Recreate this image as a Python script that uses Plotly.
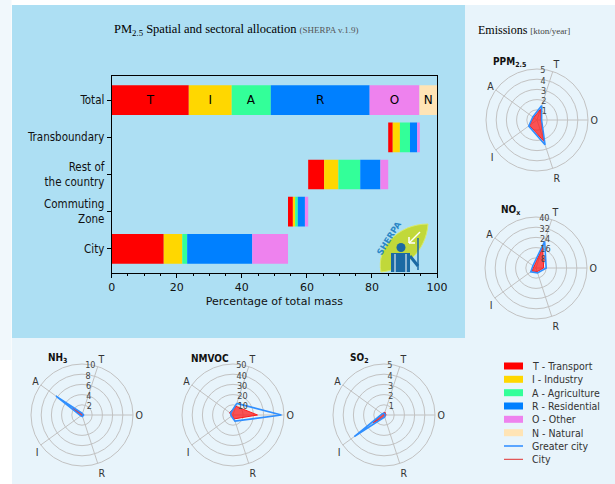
import plotly.graph_objects as go

W, H = 615, 484


def px(x):
    return x / W


def py(y):
    return 1 - y / H


NARROW = "Liberation Sans Narrow, DejaVu Sans Condensed, Roboto Condensed, Arial Narrow, Roboto, sans-serif"
SERIF = "Liberation Serif, DejaVu Serif, serif"

# ---------------- bar chart data ----------------
categories = ["Total", "Transboundary", "Rest of<br>the country", "Commuting<br>Zone", "City"]
sector_codes = ["T", "I", "A", "R", "O", "N"]
sector_names = ["Transport", "Industry", "Agriculture", "Residential", "Other", "Natural"]
sector_colors = ["#ff0000", "#ffd700", "#33ff99", "#0080ff", "#ee82ee", "#ffe4b5"]

total = [23.7, 13.2, 12.0, 30.4, 15.3, 5.4]
transboundary = [1.4, 2.2, 3.1, 2.2, 0.8, 0.0]
rest_of_country = [4.9, 4.4, 6.7, 6.2, 2.4, 0.0]
commuting_zone = [1.5, 0.7, 0.8, 2.2, 1.0, 0.0]
city = [16.0, 5.7, 1.5, 20.0, 11.0, 0.0]

# ---------------- radar data (order T, A, I, R, O) ----------------
radar_sectors = ["T", "A", "I", "R", "O"]
angular_order = ["O", "T", "A", "I", "R"]

ppm25_greater = [1.5, 0.5, 1.0, 2.55, 0.45]
ppm25_city = [1.1, 0.4, 0.9, 2.2, 0.4]
nox_greater = [22, 3, 5, 4, 8]
nox_city = [17, 2, 4, 3, 6]
nh3_greater = [0.3, 6.3, 0.3, 0.3, 0.3]
nh3_city = [0.2, 2.3, 0.2, 0.2, 0.2]
nmvoc_greater = [12, 3, 2, 6.3, 47.5]
nmvoc_city = [9, 4, 2, 4, 24]
so2_greater = [0.2, 0.2, 3.6, 0.2, 0.1]
so2_city = [0.3, 0.2, 1.3, 0.2, 0.2]

radar_ticks = {
    "ppm": [1, 2, 3, 4, 5],
    "nox": [8, 16, 24, 32, 40],
    "nh3": [2, 4, 6, 8, 10],
    "nmvoc": [10, 20, 30, 40, 50],
    "so2": [1, 2, 3, 4, 5],
}

fig = go.Figure()

# ---------------- stacked waterfall-like bars ----------------
rows = [total, transboundary, rest_of_country, commuting_zone, city]
row_start = [0.0] * 5
row_start[4] = 0.0
row_start[3] = row_start[4] + sum(city)
row_start[2] = row_start[3] + sum(commuting_zone)
row_start[1] = row_start[2] + sum(rest_of_country)
row_start[0] = 0.0

for j, code in enumerate(sector_codes):
    # Total row (labelled with the sector letter)
    fig.add_trace(go.Bar(
        y=[categories[0]], x=[total[j]], base=[row_start[0] + sum(total[:j])], orientation="h",
        marker=dict(color=sector_colors[j], line=dict(width=0)), width=0.8,
        text=[code], textposition="inside", insidetextanchor="middle", textangle=0,
        textfont=dict(family="DejaVu Sans", size=12, color="black"),
        showlegend=False, hoverinfo="skip",
    ))
    # spatial contributions
    ys, xs, bases = [], [], []
    for i in range(1, len(rows)):
        r = rows[i]
        if r[j] > 0:
            ys.append(categories[i])
            xs.append(r[j])
            bases.append(row_start[i] + sum(r[:j]))
    if xs:
        fig.add_trace(go.Bar(
            y=ys, x=xs, base=bases, orientation="h",
            marker=dict(color=sector_colors[j], line=dict(width=0)), width=0.8,
            showlegend=False, hoverinfo="skip",
        ))

fig.update_layout(
    barmode="overlay",
    xaxis=dict(domain=[px(111.7), px(437)], range=[0, 100], tickvals=[0, 20, 40, 60, 80, 100],
               ticks="outside", ticklen=4, tickcolor="black", showline=True, mirror=True,
               linecolor="black", linewidth=1, showgrid=False, zeroline=False, automargin=False,
               minor=dict(ticks="outside", dtick=5, ticklen=2, tickcolor="black"),
               tickfont=dict(family="DejaVu Sans", size=11, color="#111"),
               title=dict(text="Percentage of total mass", standoff=4,
                          font=dict(family="DejaVu Sans", size=11, color="#111"))),
    yaxis=dict(domain=[py(273), py(76)], categoryorder="array", categoryarray=categories[::-1],
               range=[-0.65, 4.65], ticks="outside", ticklen=4, tickcolor="black",
               showline=True, mirror=True, linecolor="black", linewidth=1, showgrid=False,
               zeroline=False, automargin=False,
               tickfont=dict(family=NARROW, size=11.5, color="#111")),
)

# ---------------- radar charts ----------------
R = 51
radars = [
    ("polar", (537, 120), ppm25_greater, ppm25_city, radar_ticks["ppm"], "PPM<sub>2.5</sub>", (491, 62)),
    ("polar2", (536, 268), nox_greater, nox_city, radar_ticks["nox"], "NO<sub>x</sub>", (499, 210)),
    ("polar3", (82, 415), nh3_greater, nh3_city, radar_ticks["nh3"], "NH<sub>3</sub>", (46, 358)),
    ("polar4", (233, 415), nmvoc_greater, nmvoc_city, radar_ticks["nmvoc"], "NMVOC", (189, 358)),
    ("polar5", (384, 415), so2_greater, so2_city, radar_ticks["so2"], "SO<sub>2</sub>", (348, 358)),
]

annotations = []
for name, (cx, cy), greater, cityv, ticks, title, (tx, ty) in radars:
    th = radar_sectors + [radar_sectors[0]]
    fig.add_trace(go.Scatterpolar(
        r=cityv + [cityv[0]], theta=th, subplot=name, mode="lines",
        line=dict(color="#ff1a1a", width=1), fill="toself",
        fillcolor="rgba(255,20,20,0.72)", showlegend=False, hoverinfo="skip"))
    fig.add_trace(go.Scatterpolar(
        r=greater + [greater[0]], theta=th, subplot=name, mode="lines",
        line=dict(color="#2f8fff", width=1.6), showlegend=False, hoverinfo="skip"))
    fig.layout[name] = dict(
        domain=dict(x=[px(cx - R), px(cx + R)], y=[py(cy + R), py(cy - R)]),
        bgcolor="rgba(0,0,0,0)",
        angularaxis=dict(type="category", categoryorder="array", categoryarray=angular_order,
                         rotation=0, direction="counterclockwise", showline=True,
                         linecolor="#c2c2c2", linewidth=1, gridcolor="#c2c2c2", ticks="",
                         showgrid=True,
                         tickfont=dict(family=NARROW, size=10.5, color="#333")),
        radialaxis=dict(range=[0, ticks[-1]], tickvals=ticks, angle=92, showline=False,
                        showgrid=True, gridcolor="#c2c2c2", ticks="", tickangle=92,
                        tickfont=dict(family=NARROW, size=9, color="#444")),
    )
    annotations.append(dict(x=px(tx), y=py(ty), xref="paper", yref="paper", xanchor="left",
                            yanchor="middle", showarrow=False, text="<b>" + title + "</b>",
                            font=dict(family=NARROW, size=10, color="#111")))

# ---------------- background panels & logo ----------------
shapes = [
    dict(type="rect", xref="paper", yref="paper", x0=px(0), x1=px(11.5), y0=py(360), y1=py(0),
         fillcolor="#f1f8fc", line=dict(width=0), layer="below"),
    dict(type="rect", xref="paper", yref="paper", x0=px(12), x1=px(615), y0=py(484), y1=py(5),
         fillcolor="#e8f4fb", line=dict(width=0), layer="below"),
    dict(type="rect", xref="paper", yref="paper", x0=px(12), x1=px(465), y0=py(338), y1=py(5),
         fillcolor="#addff3", line=dict(width=0), layer="below"),
]


def path_from(points_cmd):
    out = []
    for tok in points_cmd:
        if isinstance(tok, str):
            out.append(tok)
        else:
            out.append(f"{px(tok[0]):.5f},{py(tok[1]):.5f}")
    return " ".join(out)


leaf = path_from(["M", (428, 224), "C", (398, 224), (376, 248), (381, 272),
                  "C", (404, 270), (426, 252), (428, 224), "Z"])
shapes.append(dict(type="path", xref="paper", yref="paper", path=leaf,
                   fillcolor="#c1d83a", line=dict(color="#d8ea6a", width=1)))
shapes.append(dict(type="line", xref="paper", yref="paper", x0=px(420), y0=py(232),
                   x1=px(409), y1=py(243), line=dict(color="white", width=1.5)))
shapes.append(dict(type="line", xref="paper", yref="paper", x0=px(409), y0=py(243),
                   x1=px(409), y1=py(237), line=dict(color="white", width=1.5)))
shapes.append(dict(type="line", xref="paper", yref="paper", x0=px(409), y0=py(243),
                   x1=px(415), y1=py(243), line=dict(color="white", width=1.5)))
shapes.append(dict(type="circle", xref="paper", yref="paper", x0=px(396.5), x1=px(405.5),
                   y0=py(252), y1=py(243), fillcolor="#1b6aa3", line=dict(width=0)))
shapes.append(dict(type="rect", xref="paper", yref="paper", x0=px(391), x1=px(410),
                   y0=py(272), y1=py(253), fillcolor="#1b6aa3", line=dict(width=0)))
shapes.append(dict(type="line", xref="paper", yref="paper", x0=px(395), x1=px(395),
                   y0=py(272), y1=py(254), line=dict(color="white", width=1)))
shapes.append(dict(type="line", xref="paper", yref="paper", x0=px(406), x1=px(406),
                   y0=py(272), y1=py(254), line=dict(color="white", width=1)))
shapes.append(dict(type="line", xref="paper", yref="paper", x0=px(410), x1=px(418),
                   y0=py(256), y1=py(266), line=dict(color="#1b6aa3", width=3)))
shapes.append(dict(type="line", xref="paper", yref="paper", x0=px(418), x1=px(418),
                   y0=py(238), y1=py(270), line=dict(color="#1b6aa3", width=1.5)))
annotations.append(dict(x=px(389), y=py(238), xref="paper", yref="paper", showarrow=False,
                        text="<b>SHERPA</b>", textangle=-58,
                        font=dict(family="DejaVu Sans", size=8.5, color="#2a86c6")))

# ---------------- custom legend ----------------
legend_y = [366, 379.3, 392.7, 406, 419.3, 432.7]
for j in range(len(sector_codes)):
    shapes.append(dict(type="rect", xref="paper", yref="paper", x0=px(504), x1=px(523),
                       y0=py(legend_y[j] + 3.5), y1=py(legend_y[j] - 3.5),
                       fillcolor=sector_colors[j], line=dict(width=0)))
    annotations.append(dict(x=px(530), y=py(legend_y[j]), xref="paper", yref="paper",
                            xanchor="left", yanchor="middle", showarrow=False,
                            text=f"{sector_codes[j]} - {sector_names[j]}",
                            font=dict(family=NARROW, size=10.5, color="#333")))
line_items = [("Greater city", "#4a9cff", 1.8, 446), ("City", "#e03030", 1, 459.3)]
for label, col, wdt, yy in line_items:
    shapes.append(dict(type="line", xref="paper", yref="paper", x0=px(504), x1=px(523),
                       y0=py(yy), y1=py(yy), line=dict(color=col, width=wdt)))
    annotations.append(dict(x=px(530), y=py(yy), xref="paper", yref="paper", xanchor="left",
                            yanchor="middle", showarrow=False, text=label,
                            font=dict(family=NARROW, size=10.5, color="#333")))

# ---------------- titles ----------------
annotations.append(dict(x=px(112), y=py(30), xref="paper", yref="paper", xanchor="left",
                        yanchor="middle", showarrow=False,
                        text="PM<sub>2.5</sub> Spatial and sectoral allocation "
                             "<span style='font-size:9px;color:#555'>(SHERPA v.1.9)</span>",
                        font=dict(family=SERIF, size=12.5, color="#000")))
annotations.append(dict(x=px(476), y=py(30), xref="paper", yref="paper", xanchor="left",
                        yanchor="middle", showarrow=False,
                        text="Emissions <span style='font-size:9px;color:#444'>[kton/year]</span>",
                        font=dict(family=SERIF, size=12, color="#000")))

fig.update_layout(
    template="none",
    width=W, height=H, autosize=False,
    margin=dict(l=0, r=0, t=0, b=0, pad=0, autoexpand=False),
    paper_bgcolor="white", plot_bgcolor="rgba(0,0,0,0)",
    shapes=shapes, annotations=annotations, showlegend=False,
)

fig.write_html(
    "out.html",
    config={"displayModeBar": False},
    post_script="document.body.style.margin='0';document.body.style.padding='0';"
                "document.body.style.overflow='hidden';",
)
